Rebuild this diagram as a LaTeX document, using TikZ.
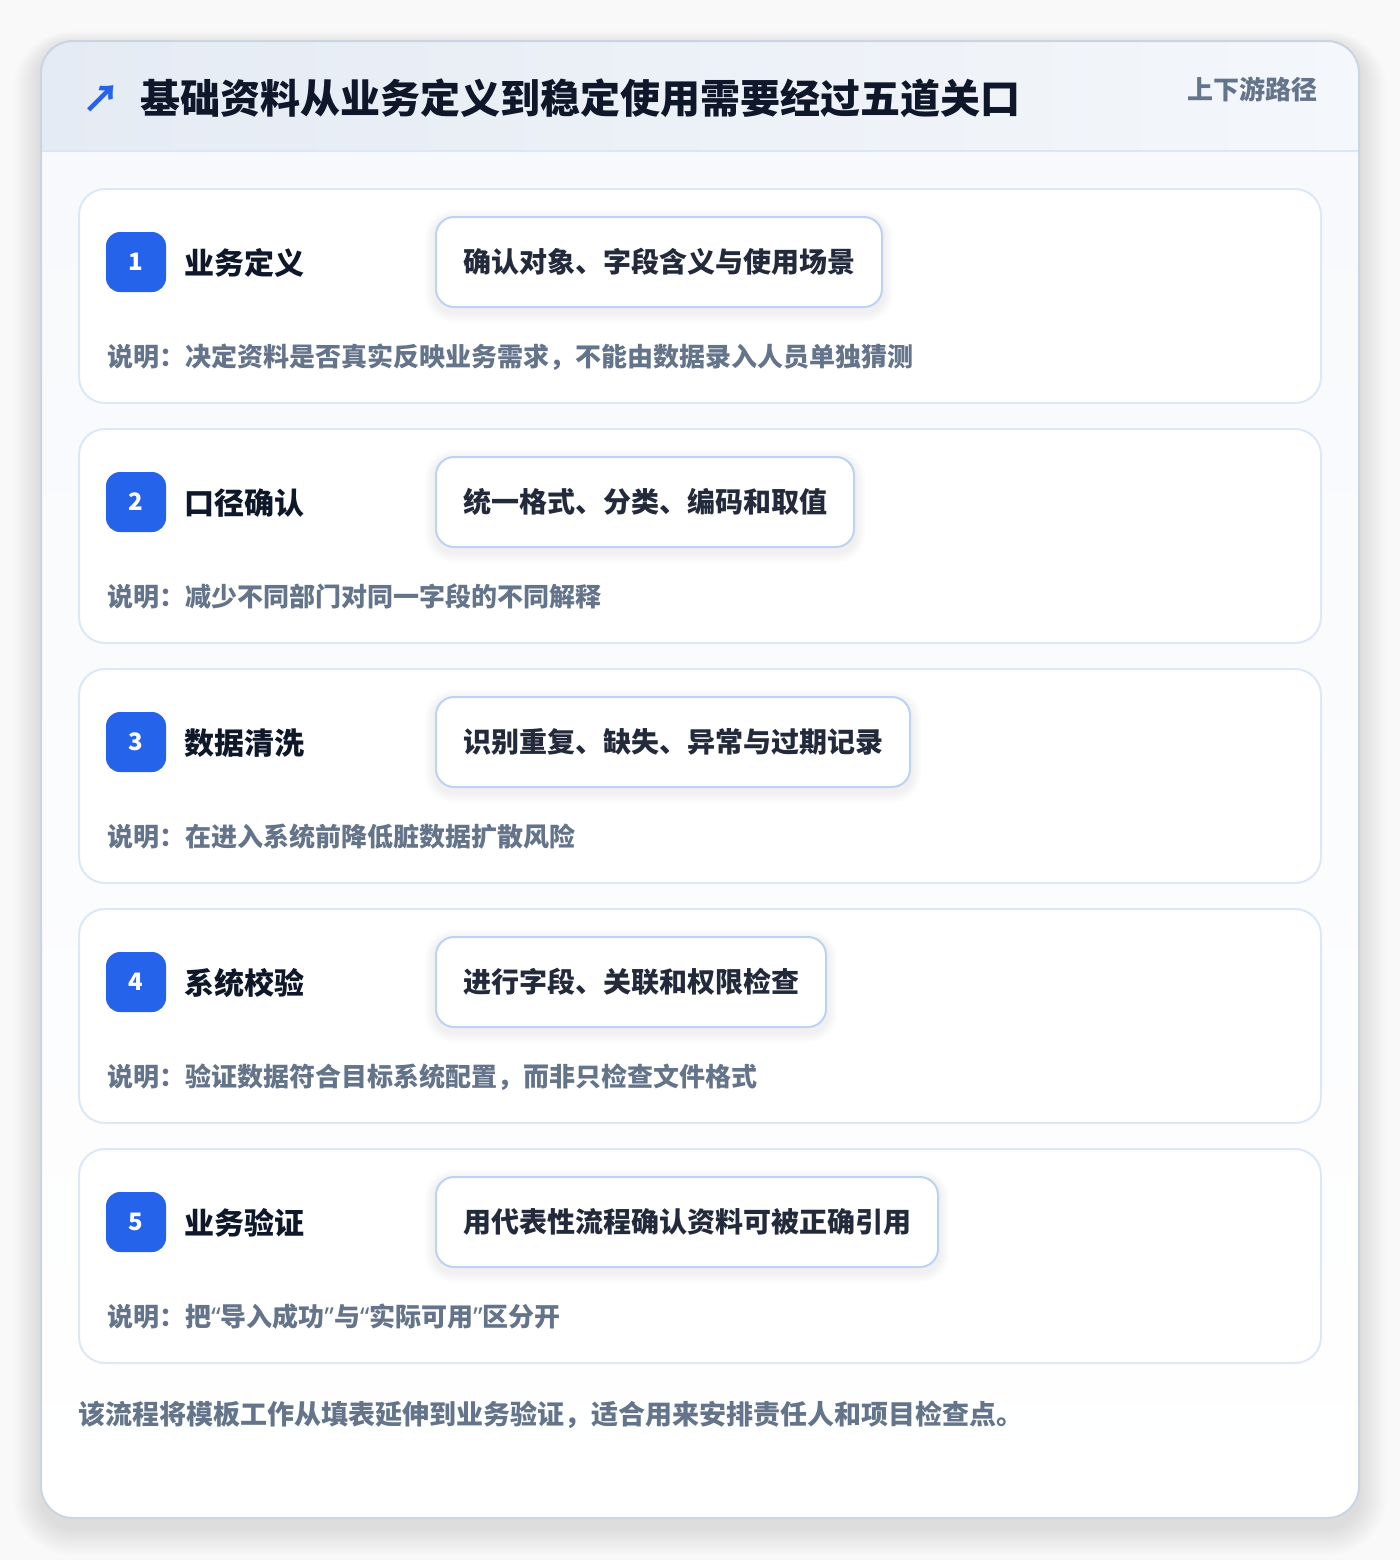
\documentclass[tikz,border=0pt]{standalone}
\usepackage{fontspec}
\setmainfont{Noto Sans CJK SC}
\newfontfamily\quotefont{Noto Sans}
\usetikzlibrary{positioning}

\definecolor{pagebg}{HTML}{F9F9FA}
\definecolor{panelline}{HTML}{CBD5E1}
\definecolor{headA}{HTML}{E5EBF4}
\definecolor{headB}{HTML}{F4F7FB}
\definecolor{headline}{HTML}{DBE7F7}
\definecolor{bodybg}{HTML}{F7F9FC}
\definecolor{cardline}{HTML}{DCE8F8}
\definecolor{pillline}{HTML}{BCD3F1}
\definecolor{accent}{HTML}{2563EB}
\definecolor{ink}{HTML}{0F172A}
\definecolor{muted}{HTML}{64748B}

\newcommand\openq{{\quotefont “}}
\newcommand\closeq{{\quotefont ”}}

\begin{document}
\begin{tikzpicture}[x=0.5pt,y=-0.5pt,
	cardbox/.style={draw=cardline,line width=1pt,fill=white,rounded corners=13pt},
	badge/.style={fill=accent,rounded corners=7pt,minimum size=30pt,inner sep=0pt,
		text=white,font=\bfseries\fontsize{12}{12}\selectfont},
	stagename/.style={anchor=west,inner sep=0pt,text=ink,font=\bfseries\fontsize{15}{15}\selectfont},
	tagbox/.style={anchor=west,draw=pillline,line width=1pt,fill=white,rounded corners=9pt,
		minimum height=45pt,inner xsep=13.5pt,inner ysep=0pt,text=ink!92,
		font=\bfseries\fontsize{14}{14}\selectfont},
	notetext/.style={anchor=west,inner sep=0pt,text=muted,font=\bfseries\fontsize{13}{13}\selectfont}
	]
	\useasboundingbox (0,0) rectangle (1400,1560);
	\fill[pagebg] (0,0) rectangle (1400,1560);
	% soft shadow round the panel
	\foreach \i in {1,...,14}{
		\pgfmathsetmacro\rr{16+\i}
		\fill[black,opacity=0.006,rounded corners=\rr pt] (41-2*\i,41-\i+4) rectangle (1359+2*\i,1518+2*\i+10);
	}
	% panel
	\begin{scope}
		\clip[rounded corners=16pt] (41,41) rectangle (1359,1518);
		\fill[top color=bodybg,bottom color=white] (41,151) rectangle (1359,1518);
		\fill[left color=headA,right color=headB] (41,41) rectangle (1359,151);
	\end{scope}
	\draw[headline,line width=1pt] (41,151) -- (1359,151);
	\draw[panelline,line width=1pt,rounded corners=16pt] (41,41) rectangle (1359,1518);

	% header
	\node[text=accent,font=\bfseries\fontsize{19}{19}\selectfont,inner sep=0pt] (icon) at (102,99) {↗};
	\node[anchor=west,inner sep=0pt,text=ink,font=\bfseries\fontsize{20}{20}\selectfont] (title) at (140,98)
		{基础资料从业务定义到稳定使用需要经过五道关口};
	\node[anchor=east,inner sep=0pt,text=muted,font=\bfseries\fontsize{13}{13}\selectfont] (route) at (1318,89)
		{上下游路径};

	% five stages
	\foreach \n/\name/\tag/\note in {
		1/业务定义/确认对象、字段含义与使用场景/说明：决定资料是否真实反映业务需求，不能由数据录入人员单独猜测,
		2/口径确认/统一格式、分类、编码和取值/说明：减少不同部门对同一字段的不同解释,
		3/数据清洗/识别重复、缺失、异常与过期记录/说明：在进入系统前降低脏数据扩散风险,
		4/系统校验/进行字段、关联和权限检查/说明：验证数据符合目标系统配置，而非只检查文件格式,
		5/业务验证/用代表性流程确认资料可被正确引用/说明：把\openq 导入成功\closeq 与\openq 实际可用\closeq 区分开}{
		\pgfmathsetmacro\cardy{189+240*(\n-1)}
		\draw[cardbox] (79,\cardy) rectangle (1321,\cardy+214);
		\node[badge] (badge\n) at (136,\cardy+73) {\n};
		\node[stagename] (stage\n) at (184,\cardy+74) {\name};
		\node[tagbox,opacity=0] (ghost\n) at (435,\cardy+73) {\tag};
		\foreach \s in {1,...,5}
			\fill[black,opacity=0.012,rounded corners=9pt+\s pt]
				([xshift=-\s pt,yshift=-\s pt-2pt]ghost\n.south west) rectangle ([xshift=\s pt,yshift=\s pt-2pt]ghost\n.north east);
		\node[tagbox] (tag\n) at (435,\cardy+73) {\tag};
		\node[notetext] (note\n) at (107,\cardy+168) {\note};
	}

	% closing remark
	\node[notetext,font=\bfseries\fontsize{13.5}{13.5}\selectfont] (remark) at (78,1415)
		{该流程将模板工作从填表延伸到业务验证，适合用来安排责任人和项目检查点。};
\end{tikzpicture}
\end{document}
